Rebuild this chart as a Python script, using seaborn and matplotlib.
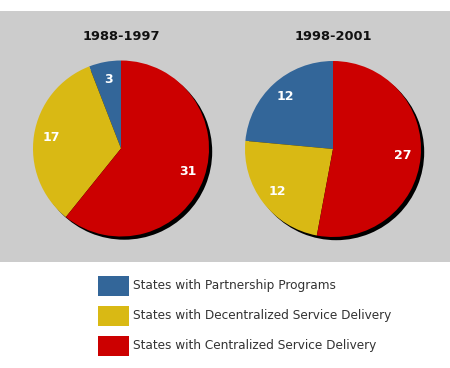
import matplotlib
matplotlib.use("Agg")
import matplotlib.pyplot as plt
from matplotlib.patches import Rectangle
import seaborn as sns

periods = ["1988-1997", "1998-2001"]
categories = ["States with Partnership Programs",
              "States with Decentralized Service Delivery",
              "States with Centralized Service Delivery"]
values_1988 = [3, 17, 31]
values_1998 = [12, 12, 27]
colors = ["#336699", "#D9B914", "#CC0000"]

sns.set_theme(style="white")
plt.rcParams['font.family'] = ['DejaVu Sans']

W, H = 450, 368
fig = plt.figure(figsize=(W / 100, H / 100), dpi=100)
fig.patch.set_facecolor("white")

# gray panel
fig.patches.append(Rectangle((0, (H - 262) / H), 1, (262 - 11) / H,
                             transform=fig.transFigure, facecolor="#CCCCCC",
                             edgecolor="none", zorder=-5))

def px_axes(cx, cy, half):
    return fig.add_axes([(cx - half) / W, (H - cy - half) / H, 2 * half / W, 2 * half / H])

R = 88.0
half = 100.0
lim = half / R
off = 3.2 / R
centers = [(121, 148.5), (333, 149)]
for (cx, cy), vals, title in zip(centers, [values_1988, values_1998], periods):
    ax = px_axes(cx, cy, half)
    ax.set_facecolor("none")
    total = sum(vals)
    # shadow
    ax.pie([1], colors=["black"], center=(off, -off), radius=1.0,
           wedgeprops=dict(linewidth=0))
    ax.pie(vals, colors=colors, startangle=90, counterclock=True,
           radius=1.0, wedgeprops=dict(linewidth=0),
           autopct=lambda p, t=total: f"{p * t / 100:.0f}", pctdistance=0.8,
           textprops=dict(color="white", fontweight="bold", fontsize=9))
    ax.set_xlim(-lim, lim)
    ax.set_ylim(-lim, lim)
    ax.set_aspect("equal")
    ax.axis("off")
    fig.text(cx / W, 1 - 36 / H, title, ha="center", va="center",
             fontsize=9.4, fontweight="bold", color="#111111")

# legend
for i, (lab, col) in enumerate(zip(categories, colors)):
    top = 276 + 30 * i
    fig.patches.append(Rectangle((98 / W, (H - top - 20) / H), 31 / W, 20 / H,
                                 transform=fig.transFigure, facecolor=col,
                                 edgecolor="none"))
    fig.text(133 / W, 1 - (top + 10) / H, lab, ha="left", va="center",
             fontsize=8.7, color="#333333")

fig.savefig("out.png", dpi=100)
